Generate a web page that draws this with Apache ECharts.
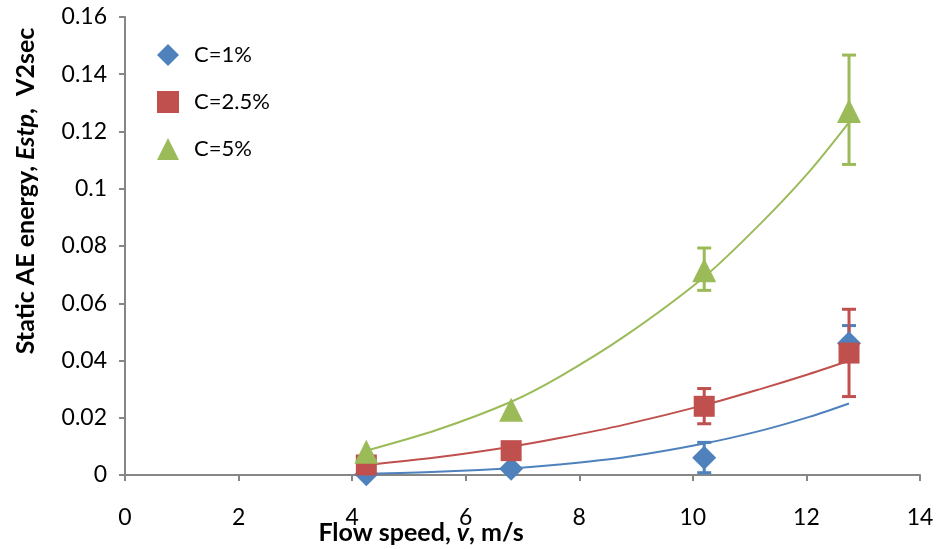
<!DOCTYPE html>
<html><head><meta charset="utf-8">
<script src="https://cdn.jsdelivr.net/npm/echarts@6/dist/echarts.min.js"></script>
<style>html,body{margin:0;padding:0;background:#fff}#c{width:938px;height:549px}</style>
</head><body><div id="c"></div>
<script>
// Flow speed (m/s) of measured points
const speeds = [4.25, 6.8, 10.2, 12.75];
// Measured static AE energy
const c1 = [0.0003, 0.0022, 0.006, 0.046];
const c25 = [0.0035, 0.0085, 0.024, 0.0426];
const c5 = [0.0081, 0.0228, 0.0715, 0.1272];
// Error bars [speed, low, high]
const errC1 = [[10.2, 0.0008, 0.0114], [12.75, 0.040, 0.0522]];
const errC25 = [[10.2, 0.0179, 0.0302], [12.75, 0.0274, 0.0579]];
const errC5 = [[10.2, 0.0645, 0.0793], [12.75, 0.1085, 0.1467]];
// Trendline points
const trendX = [4.25, 5.5, 6.8, 7.65, 8.8, 10.2, 11.2, 12.05, 12.75];
const trendC1 = [0.0004, 0.0011, 0.0024, 0.0037, 0.0062, 0.011, 0.0155, 0.0203, 0.025];
const trendC25 = [0.0035, 0.0062, 0.0099, 0.0129, 0.0176, 0.0244, 0.0301, 0.0353, 0.0399];
const trendC5 = [0.0085, 0.0158, 0.0256, 0.0343, 0.0485, 0.0692, 0.088, 0.106, 0.1232];
const xTicks = [0, 2, 4, 6, 8, 10, 12, 14];
const yTicks = [0, 0.02, 0.04, 0.06, 0.08, 0.1, 0.12, 0.14, 0.16];
const names = ['C=1%', 'C=2.5%', 'C=5%'];
const colors = ['#4F81BD', '#C0504D', '#9BBB59'];

const pairs = (xs, ys) => xs.map((x, i) => [x, ys[i]]);
function errSeries(data, color) {
  return {
    type: 'custom', data: data, z: 3,
    renderItem: function (params, api) {
      const x = api.value(0);
      const lo = api.coord([x, api.value(1)]);
      const hi = api.coord([x, api.value(2)]);
      const w = 7;
      const st = { stroke: color, lineWidth: 3 };
      return { type: 'group', children: [
        { type: 'line', shape: { x1: lo[0], y1: lo[1], x2: hi[0], y2: hi[1] }, style: st },
        { type: 'line', shape: { x1: hi[0] - w, y1: hi[1], x2: hi[0] + w, y2: hi[1] }, style: st },
        { type: 'line', shape: { x1: lo[0] - w, y1: lo[1], x2: lo[0] + w, y2: lo[1] }, style: st }
      ]};
    }
  };
}
function trend(ys, color) {
  return { type: 'line', data: pairs(trendX, ys), smooth: 0.3, showSymbol: false, symbol: 'none',
    lineStyle: { color: color, width: 2 }, silent: true, z: 2 };
}
function pts(name, ys, color, symbol, size) {
  return { name: name, type: 'scatter', data: pairs(speeds, ys), symbol: symbol, symbolSize: size,
    itemStyle: { color: color, opacity: 1 }, z: 4 };
}
const font = 'Lato, "Liberation Sans", sans-serif';
const chart = echarts.init(document.getElementById('c'));
chart.setOption({
  animation: false,
  textStyle: { fontFamily: font },
  grid: { left: 125, right: 18, top: 17, bottom: 74 },
  legend: {
    orient: 'vertical', left: 152, top: 39, itemWidth: 22, itemHeight: 22, itemGap: 25,
    data: [{ name: names[0], icon: 'diamond' }, { name: names[1], icon: 'rect' }, { name: names[2], icon: 'triangle' }],
    textStyle: { fontSize: 22, color: '#000', fontFamily: font, padding: [0, 0, 0, 10] }
  },
  xAxis: {
    type: 'value', min: xTicks[0], max: xTicks[xTicks.length - 1], interval: 2,
    axisLine: { lineStyle: { color: '#868686', width: 2 } },
    axisTick: { show: true, length: 6, lineStyle: { color: '#868686', width: 2 } },
    axisLabel: { fontSize: 23, color: '#000', margin: 31, fontFamily: font },
    splitLine: { show: false }
  },
  yAxis: {
    type: 'value', min: yTicks[0], max: yTicks[yTicks.length - 1], interval: 0.02,
    axisLine: { show: true, lineStyle: { color: '#868686', width: 2 } },
    axisTick: { show: true, length: 6, lineStyle: { color: '#868686', width: 2 } },
    axisLabel: { fontSize: 23, color: '#000', margin: 18, fontFamily: font },
    splitLine: { show: false }
  },
  graphic: [
    { type: 'text', x: 26, y: 191, rotation: Math.PI / 2, style: {
        text: '{b|Static AE energy, }{i|Estp}{b|,  V2sec}', align: 'center', verticalAlign: 'middle',
        rich: { b: { fontSize: 25, fontWeight: 'bold', fontFamily: font, fill: '#000', color: '#000' },
                i: { fontSize: 25, fontWeight: 'bold', fontStyle: 'italic', fontFamily: font, fill: '#000', color: '#000' } } } },
    { type: 'text', x: 421, y: 533, style: {
        text: '{b|Flow speed, }{i|v}{b|, m/s}', align: 'center', verticalAlign: 'middle',
        rich: { b: { fontSize: 25, fontWeight: 'bold', fontFamily: font, fill: '#000', color: '#000' },
                i: { fontSize: 25, fontWeight: 'bold', fontStyle: 'italic', fontFamily: font, fill: '#000', color: '#000' } } } }
  ],
  series: [
    trend(trendC1, colors[0]), trend(trendC25, colors[1]), trend(trendC5, colors[2]),
    pts(names[0], c1, colors[0], 'diamond', 24),
    errSeries(errC1, colors[0]),
    pts(names[1], c25, colors[1], 'rect', 21),
    errSeries(errC25, colors[1]),
    pts(names[2], c5, colors[2], 'triangle', 24),
    errSeries(errC5, colors[2])
  ]
});
</script></body></html>
